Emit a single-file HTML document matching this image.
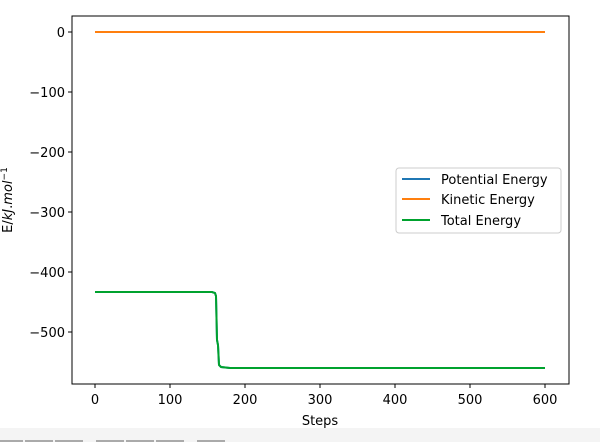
<!DOCTYPE html><html><head><style>body{margin:0;background:#fff}svg{display:block}text{font-family:"DejaVu Sans","Liberation Sans",sans-serif;font-size:13px;fill:#000}</style></head><body>
<svg width="600" height="442" viewBox="0 0 600 442">
<rect x="0" y="428" width="600" height="14" fill="#f4f4f4"/>
<g fill="#aaa"><rect x="0" y="440" width="23" height="2"/><rect x="25" y="440" width="28" height="2"/><rect x="55" y="440" width="28" height="2"/><rect x="96" y="440" width="28" height="2"/><rect x="126" y="440" width="28" height="2"/><rect x="156" y="440" width="28" height="2"/><rect x="197" y="440" width="28" height="2"/></g>
<polyline fill="none" stroke="#1f77b4" stroke-width="2" points="95,292 212,292 215,293 216,296 217,340 218,345 219,365 221,367 230,368 545,368"/>
<line x1="95" y1="32" x2="545" y2="32" stroke="#ff7f0e" stroke-width="2"/>
<polyline fill="none" stroke="#00a22e" stroke-width="2" points="95,292 212,292 215,293 216,296 217,340 218,345 219,365 221,367 230,368 545,368"/>
<rect x="72" y="16" width="497" height="368" fill="none" stroke="#000" stroke-width="1"/>
<g stroke="#000"><line x1="95" y1="384" x2="95" y2="388"/><line x1="170" y1="384" x2="170" y2="388"/><line x1="245" y1="384" x2="245" y2="388"/><line x1="320" y1="384" x2="320" y2="388"/><line x1="395" y1="384" x2="395" y2="388"/><line x1="470" y1="384" x2="470" y2="388"/><line x1="545" y1="384" x2="545" y2="388"/>
<line x1="68" y1="32" x2="72" y2="32"/><line x1="68" y1="92" x2="72" y2="92"/><line x1="68" y1="152" x2="72" y2="152"/><line x1="68" y1="212" x2="72" y2="212"/><line x1="68" y1="272" x2="72" y2="272"/><line x1="68" y1="332" x2="72" y2="332"/></g>
<g text-anchor="middle"><text x="95" y="404">0</text><text x="170" y="404">100</text><text x="245" y="404">200</text><text x="320" y="404">300</text><text x="395" y="404">400</text><text x="470" y="404">500</text><text x="545" y="404">600</text><text x="320" y="425">Steps</text></g>
<g text-anchor="end"><text x="65" y="37">0</text><text x="65" y="97">−100</text><text x="65" y="157">−200</text><text x="65" y="217">−300</text><text x="65" y="277">−400</text><text x="65" y="337">−500</text></g>
<text transform="translate(12,200) rotate(-90)" text-anchor="middle">E/<tspan font-style="italic">kJ</tspan>.<tspan font-style="italic">mol</tspan><tspan font-size="9" dy="-5">−1</tspan></text>
<rect x="396" y="168" width="165" height="65" rx="3" fill="#fff" stroke="#ccc"/>
<line x1="402" y1="179" x2="430" y2="179" stroke="#1f77b4" stroke-width="2"/>
<line x1="402" y1="199" x2="430" y2="199" stroke="#ff7f0e" stroke-width="2"/>
<line x1="402" y1="220" x2="430" y2="220" stroke="#00a22e" stroke-width="2"/>
<text x="441" y="184">Potential Energy</text><text x="441" y="204">Kinetic Energy</text><text x="441" y="225">Total Energy</text>
</svg></body></html>
